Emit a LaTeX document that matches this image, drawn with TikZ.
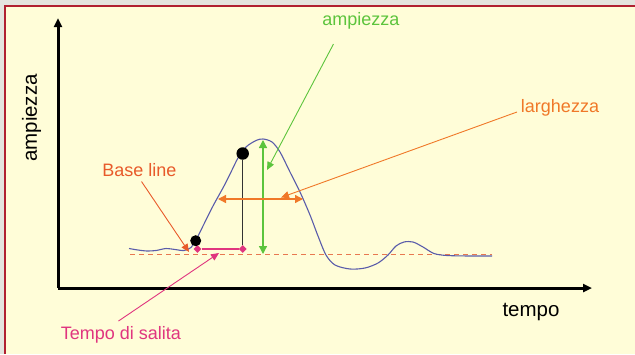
\documentclass[tikz,border=0pt]{standalone}
\usepackage{fontspec}
\setmainfont{Liberation Sans}
\usetikzlibrary{arrows.meta,shapes.geometric}
\definecolor{bgyel}{HTML}{FFFDD8}
\definecolor{bggray}{HTML}{E4E4DE}
\definecolor{frame}{HTML}{B02030}
\definecolor{cgreen}{HTML}{5CC43C}
\definecolor{corange}{HTML}{F07828}
\definecolor{cbase}{HTML}{E85A2A}
\definecolor{cmag}{HTML}{E0357F}
\definecolor{cblue}{HTML}{5A5CAA}
\definecolor{cdash}{HTML}{E87850}
\tikzset{
  lbl/.style={inner sep=0pt, font=\fontsize{18}{20}\selectfont},
  axlbl/.style={inner sep=0pt, font=\fontsize{20.5}{22}\selectfont, text=black},
  axis/.style={line width=3pt, -{Triangle[length=9pt,width=8pt]}},
  ptr/.style={line width=0.9pt, -{Triangle[length=8pt,width=7pt]}},
  dbl/.style={line width=1.3pt, {Triangle[length=8pt,width=8pt]}-{Triangle[length=8pt,width=8pt]}},
  dot/.style={circle, fill=black, inner sep=0pt, minimum size=#1},
  dia/.style={diamond, fill=cmag, inner sep=0pt, minimum width=8pt, minimum height=8pt},
}
\begin{document}
\begin{tikzpicture}[x=1pt,y=-1pt]
\useasboundingbox (0,0) rectangle (635,354);
\fill[bggray] (0,0) rectangle (635,354);
\fill[bgyel] (5,6) rectangle (635,354);
\draw[frame, line width=2pt] (5,354) -- (5,6) -- (635,6);

% axes
\coordinate (O) at (58,288);
\coordinate (Ytop) at (58,18);
\coordinate (Xend) at (592,288);
\draw[axis] (O) -- (Ytop);
\draw[axis] (O) -- (Xend);
\node[axlbl, rotate=90] (ylab) at (31.5,118) {ampiezza};
\node[axlbl] (xlab) at (531,312) {tempo};

% baseline (dashed)
\coordinate (bl1) at (130,254.7);
\coordinate (bl2) at (492,254.7);
\draw[cdash, line width=1pt, dash pattern=on 5pt off 4pt] (bl1) -- (bl2);

% signal
\draw[cblue, line width=1.1pt] plot[smooth, tension=0.5] coordinates {
 (129,248.5) (138,250) (147,251) (156,250.5) (166,248.5) (175,249.5) (184,250.5) (191,247.5)
 (196,240) (203,226) (213,206) (224,186) (232,170) (238,158) (246,147) (256,140.5) (263,139)
 (272,142) (280,152) (290,172) (300,192) (310,215) (318,236) (326,255) (335,265) (350,269)
 (365,268) (378,263) (388,255) (396,246) (404,242) (413,242) (423,247) (434,253.5) (447,255.5)
 (470,256) (492,256)};

% rise time markers
\node[dia] (m1) at (197.5,249) {};
\node[dia] (m2) at (242.7,249) {};
\draw[cmag, line width=1.3pt] (m1) -- (m2);
\node[dot=11pt] (d1) at (195.7,240.7) {};
\node[dot=12.5pt] (d2) at (242.7,153.5) {};
\draw[black!80, line width=1pt] (d2) -- (m2);

% amplitude
\coordinate (a1) at (263,140);
\coordinate (a2) at (263,254);
\draw[cgreen, dbl] (a1) -- (a2);

% width
\coordinate (w1) at (218,199);
\coordinate (w2) at (303,199);
\draw[corange, dbl] (w1) -- (w2);

% labels and pointers
\node[lbl, text=cgreen] (tamp) at (361,21) {ampiezza};
\coordinate (tampA) at (267,170);
\draw[cgreen, ptr] (333.5,44) -- (tampA);

\node[lbl, text=corange] (tlar) at (560,108) {larghezza};
\coordinate (tlarA) at (281,197.5);
\draw[corange, ptr] (517,112) -- (tlarA);

\node[lbl, text=cbase] (tbase) at (139.5,170) {Base line};
\coordinate (tbaseA) at (189,252);
\draw[cbase, ptr] (141.5,181.5) -- (tbaseA);

\node[lbl, text=cmag] (tsal) at (121,335) {Tempo di salita};
\coordinate (tsalA) at (219,253);
\draw[cmag, ptr] (118.5,321) -- (tsalA);
\end{tikzpicture}
\end{document}
